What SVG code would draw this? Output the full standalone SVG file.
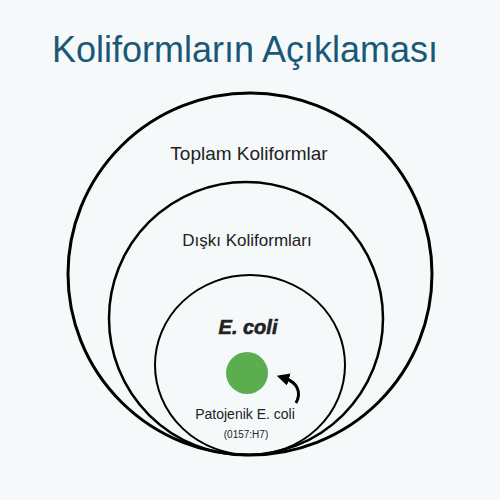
<svg xmlns="http://www.w3.org/2000/svg" width="500" height="500" viewBox="0 0 500 500">
<style>
.ring{fill:none;stroke:#000}
.t{font-family:"Liberation Sans",Arial,sans-serif;text-anchor:middle;fill:#222}
</style>
<defs>
<marker id="ah" viewBox="0 0 10 10" refX="4" refY="5" markerWidth="4.2" markerHeight="4.2" orient="auto-start-reverse">
<path d="M0,0 L10,5 L0,10 z" fill="#000"/>
</marker>
</defs>
<rect width="500" height="500" fill="#f5f9fa"/>
<text class="t" x="245" y="62" font-size="36" style="fill:#1a5878">Koliformların Açıklaması</text>
<g id="total">
<ellipse class="ring" cx="250" cy="274" rx="182" ry="181" stroke-width="3"/>
<text class="t" x="249" y="160" font-size="19">Toplam Koliformlar</text>
</g>
<g id="fecal">
<ellipse class="ring" cx="246" cy="318.5" rx="137" ry="136.5" stroke-width="2.5"/>
<text class="t" x="247" y="246" font-size="17">Dışkı Koliformları</text>
</g>
<g id="ecoli">
<ellipse class="ring" cx="250" cy="365" rx="95" ry="90" stroke-width="2"/>
<text class="t" x="248" y="334" font-size="20" font-weight="bold" font-style="italic" stroke="#222" stroke-width="0.6">E. coli</text>
</g>
<g id="pathogenic">
<circle cx="247" cy="373" r="21" fill="#5aae50"/>
<text class="t" x="245" y="419" font-size="14">Patojenik E. coli</text>
<text class="t" x="246" y="438" font-size="10">(0157:H7)</text>
</g>
<g id="connectors">
<path d="M296,403 C302,392 297,382 284,378" fill="none" stroke="#000" stroke-width="3" marker-end="url(#ah)"/>
</g>
</svg>
